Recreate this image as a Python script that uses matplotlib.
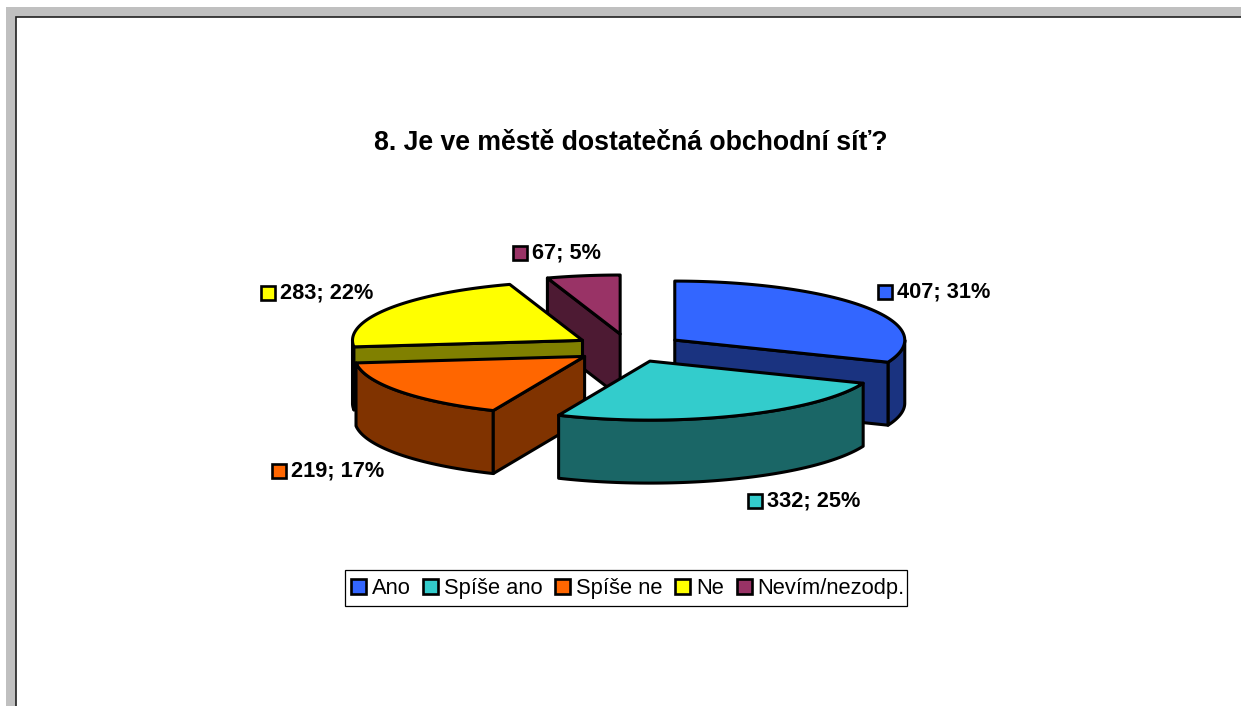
import matplotlib
matplotlib.use("Agg")
import matplotlib.pyplot as plt
import matplotlib.patches as mpatches
import numpy as np

plt.rcParams["font.family"] = ["Liberation Sans", "DejaVu Sans"]

TITLE = "8. Je ve městě dostatečná obchodní síť?"
categories = ["Ano", "Spíše ano", "Spíše ne", "Ne", "Nevím/nezodp."]
values = [407, 332, 219, 283, 67]
top_colors = ["#3366FF", "#33CCCC", "#FF6600", "#FFFF00", "#993366"]
wall_colors = ["#1A3380", "#1A6666", "#803300", "#808000", "#4D1A33"]

# layout of the fake 3d pie, in pixels
CX, CY = 629, 348
RX, RY = 230, 59
DEPTH = 63
EXPLODE = 0.24
LW = 2.2
PAINT_ORDER = [4, 3, 0, 2, 1]  # back to front
# (square left, text centre y) per label
LABEL_POS = [(878, 292), (748, 501), (272, 471), (261, 293), (513, 253)]

W, H = 1241, 706
fig = plt.figure(figsize=(W / 100, H / 100), dpi=100)
ax = fig.add_axes([0, 0, 1, 1])
ax.set_xlim(0, W)
ax.set_ylim(H, 0)
ax.axis("off")

# window frame
ax.add_patch(mpatches.Rectangle((6, 7), W, H, fc="#C0C0C0", ec="none", zorder=0))
ax.add_patch(mpatches.Rectangle((16, 17), W, H, fc="white", ec="#202020", lw=1.2, zorder=0.5))


def pt(cx, cy, theta, r=1.0):
    # theta is degrees clockwise from 12 o'clock
    t = np.radians(theta)
    return cx + r * RX * np.sin(t), cy - r * RY * np.cos(t)


def poly(xy, color, z):
    ax.add_patch(mpatches.Polygon(xy, closed=True, fc=color, ec="black", lw=LW,
                                  joinstyle="round", zorder=z))


total = sum(values)
edges = np.concatenate([[0], np.cumsum(values)]) / total * 360

for z, i in enumerate(PAINT_ORDER):
    a0, a1 = edges[i], edges[i + 1]
    mid = (a0 + a1) / 2
    cx, cy = pt(CX, CY, mid, EXPLODE)
    base = 2 + z

    # outer wall, only the part facing the viewer
    w0, w1 = max(a0, 90), min(a1, 270)
    if w1 > w0:
        th = np.linspace(w0, w1, 80)
        xs, ys = pt(cx, cy, th)
        wall = np.vstack([np.c_[xs, ys], np.c_[xs[::-1], ys[::-1] + DEPTH]])
        poly(wall, wall_colors[i], base)

    # radial walls that face the viewer
    for a, visible in [(a0, 180 < a0 < 360), (a1, 0 < a1 < 180)]:
        if visible:
            x, y = pt(cx, cy, a)
            poly([(cx, cy), (x, y), (x, y + DEPTH), (cx, cy + DEPTH)], wall_colors[i], base + 0.1)

    th = np.linspace(a0, a1, 80)
    xs, ys = pt(cx, cy, th)
    poly(np.vstack([[cx, cy], np.c_[xs, ys]]), top_colors[i], base + 0.2)

ax.text(631, 143, TITLE, fontsize=19.2, fontweight="bold", ha="center", va="center", zorder=20)

# data labels
for v, col, (sx, ty) in zip(values, top_colors, LABEL_POS):
    ax.add_patch(mpatches.Rectangle((sx, ty - 7), 14, 14, fc=col, ec="black", lw=1.9, zorder=20))
    ax.text(sx + 19, ty, f"{v}; {v / total * 100:.0f}%", fontsize=15.7, fontweight="bold",
            ha="left", va="center", zorder=20)

# legend, box drawn by hand since its padding is not even in the original
ax.add_patch(mpatches.Rectangle((345, 570), 562, 36, fc="white", ec="black", lw=0.9, zorder=19))
handles = [mpatches.Patch(fc=c, ec="black", lw=1.9) for c in top_colors]
leg = ax.legend(handles, categories, loc="upper left", bbox_to_anchor=(345 / W, 1 - 572.5 / H),
                bbox_transform=ax.transAxes, ncols=5, fontsize=15.75, frameon=False,
                handlelength=0.68, handleheight=0.7,
                handletextpad=0.27, columnspacing=0.58, borderpad=0.27, borderaxespad=0)
leg.set_zorder(20)

fig.savefig("out.png", dpi=100)
